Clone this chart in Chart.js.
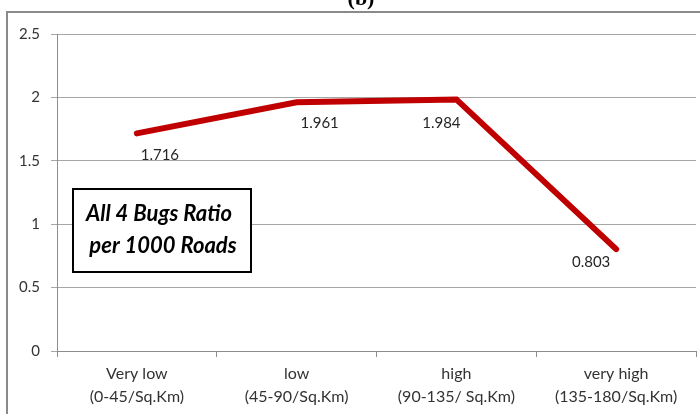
<!DOCTYPE html>
<html>
<head>
<meta charset="utf-8">
<title>All 4 Bugs Ratio per 1000 Roads</title>
<script src="https://cdn.jsdelivr.net/npm/chart.js"></script>
<style>
  html, body { margin: 0; padding: 0; background: white; }
  #wrap { width: 700px; height: 414px; position: relative; }
</style>
</head>
<body>
<div id="wrap"><canvas id="chart" width="700" height="414"></canvas></div>
<script>
// data
const densityLabels = [
  ["Very low", "(0-45/Sq.Km)"],
  ["low", "(45-90/Sq.Km)"],
  ["high", "(90-135/ Sq.Km)"],
  ["very high", "(135-180/Sq.Km)"]
];
const bugRatios = [1.716, 1.961, 1.984, 0.803];
const boxText = ["All 4 Bugs Ratio", "per 1000 Roads"];

// where each value label sits relative to its point (dragged labels in the original)
const labelShift = [[23, 22], [23, 21], [-15, 24], [-25, 13]];

const frameAndNotes = {
  id: 'frameAndNotes',
  beforeDraw(chart) {
    const c = chart.ctx;
    c.save();
    c.fillStyle = '#fff';
    c.fillRect(0, 0, chart.width, chart.height);
    // outer frame of the original figure
    c.strokeStyle = '#8a8a8a';
    c.lineWidth = 2;
    c.beginPath();
    c.moveTo(7, chart.height);
    c.lineTo(7, 12);
    c.lineTo(chart.width, 12);
    c.stroke();
    // cut-off panel title
    c.fillStyle = '#000';
    c.font = 'bold 22px "Liberation Serif"';
    c.textAlign = 'center';
    c.textBaseline = 'alphabetic';
    c.fillText('(b)', 361, 5);
    c.restore();
  },
  afterDatasetsDraw(chart) {
    const c = chart.ctx;
    const meta = chart.getDatasetMeta(0);
    c.save();
    // value labels
    c.fillStyle = '#262626';
    c.font = '15px Lato';
    c.textAlign = 'center';
    c.textBaseline = 'middle';
    meta.data.forEach((pt, i) => {
      c.fillText(bugRatios[i].toFixed(3), pt.x + labelShift[i][0], pt.y + labelShift[i][1]);
    });
    // text box
    c.fillStyle = '#fff';
    c.fillRect(73, 189, 178, 83);
    c.strokeStyle = '#000';
    c.lineWidth = 2;
    c.strokeRect(73, 189, 178, 83);
    c.fillStyle = '#000';
    c.font = 'italic bold 22px Lato';
    c.fillText(boxText[0], 159, 214);
    c.fillText(boxText[1], 163, 246);
    c.restore();
  }
};

new Chart(document.getElementById('chart'), {
  type: 'line',
  data: {
    labels: densityLabels,
    datasets: [{
      data: bugRatios,
      borderColor: '#c00000',
      borderWidth: 6,
      borderCapStyle: 'round',
      borderJoinStyle: 'miter',
      pointRadius: 0,
      tension: 0,
      fill: false
    }]
  },
  options: {
    responsive: false,
    animation: false,
    layout: { padding: { top: 34, right: 4, left: 0, bottom: 0 } },
    plugins: {
      legend: { display: false },
      title: { display: false },
      tooltip: { enabled: false }
    },
    scales: {
      x: {
        offset: true,
        grid: {
          offset: true,
          drawOnChartArea: false,
          drawTicks: true,
          tickLength: 6,
          color: '#8c8c8c'
        },
        border: { color: '#8c8c8c' },
        ticks: {
          color: '#333',
          font: { family: 'Lato', size: 16, lineHeight: 1.45 },
          padding: 5,
          maxRotation: 0,
          autoSkip: false
        },
        afterFit(scale) { scale.height = 63; }
      },
      y: {
        min: 0,
        max: 2.5,
        ticks: {
          stepSize: 0.5,
          color: '#333',
          font: { family: 'Lato', size: 15 },
          padding: 11,
          callback: (v) => String(v)
        },
        grid: {
          color: '#a6a6a6',
          tickLength: 6
        },
        border: { color: '#8c8c8c' },
        afterFit(scale) { scale.width = 57; }
      }
    }
  },
  plugins: [frameAndNotes]
});
</script>
</body>
</html>
